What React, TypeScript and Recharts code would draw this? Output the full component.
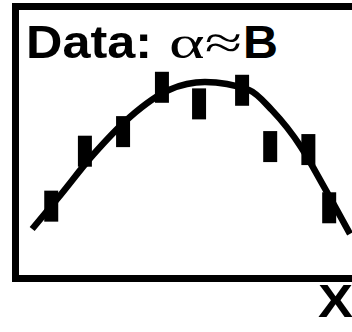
import React from "react";
import {
  ComposedChart,
  Line,
  Scatter,
  ErrorBar,
  XAxis,
  YAxis,
  ReferenceArea,
} from "recharts";

// measured points, x in [0, 10], y in [0, 10]
const pointX = [1.03, 2.0, 3.1, 4.22, 5.29, 6.53, 7.34, 8.44, 9.04];
const pointY = [2.66, 4.68, 5.4, 7.03, 6.42, 6.92, 4.85, 4.74, 2.6];
const pointErr = [0.57, 0.57, 0.57, 0.57, 0.57, 0.57, 0.57, 0.57, 0.57];

// fitted curve
const fitX = [0.48, 1.25, 2.23, 3.3, 4.42, 5.46, 6.73, 7.39, 8.23, 8.83, 9.64];
const fitY = [1.82, 3.0, 4.54, 5.94, 6.93, 7.22, 6.93, 6.19, 4.83, 3.51, 1.64];

const points = pointX.map((x, i) => ({ x, y: pointY[i], err: pointErr[i] }));
const fit = fitX.map((x, i) => ({ x, y: fitY[i] }));

const noDot = () => <g />;

const sans = "'Liberation Sans', Arial, Helvetica, sans-serif";

export default function App() {
  return (
    <div
      style={{
        position: "absolute",
        left: 0,
        top: 0,
        width: 352,
        height: 332,
        overflow: "hidden",
        background: "#fff",
      }}
    >
      <ComposedChart
        width={380}
        height={332}
        margin={{ top: 6.5, left: 15.5, right: 17.5, bottom: 53.5 }}
      >
        <XAxis type="number" dataKey="x" domain={[0, 10]} hide />
        <YAxis type="number" dataKey="y" domain={[0, 10]} hide />
        <ReferenceArea
          x1={0}
          x2={10}
          y1={0}
          y2={10}
          fill="none"
          fillOpacity={0}
          stroke="#000"
          strokeWidth={7}
          strokeOpacity={1}
        />
        <Line
          data={fit}
          dataKey="y"
          type="monotone"
          stroke="#000"
          strokeWidth={6.5}
          dot={false}
          activeDot={false}
          isAnimationActive={false}
        />
        <Scatter data={points} dataKey="y" shape={noDot} isAnimationActive={false}>
          <ErrorBar
            dataKey="err"
            direction="y"
            width={0}
            stroke="#000"
            strokeWidth={14}
            isAnimationActive={false}
          />
        </Scatter>
        <text
          x={26}
          y={58}
          fontFamily={sans}
          fontWeight="bold"
          fontSize={46}
          textLength={126}
          lengthAdjust="spacingAndGlyphs"
          fill="#000"
        >
          Data:
        </text>
        <text
          x={169}
          y={58}
          fontFamily="'Liberation Serif', serif"
          fontSize={46}
          textLength={73}
          lengthAdjust="spacingAndGlyphs"
          fill="#000"
        >
          α≈
        </text>
        <text
          x={243}
          y={58}
          fontFamily={sans}
          fontWeight="bold"
          fontSize={46}
          textLength={35}
          lengthAdjust="spacingAndGlyphs"
          fill="#000"
        >
          B
        </text>
        <text
          x={318}
          y={317}
          fontFamily={sans}
          fontWeight="bold"
          fontSize={47}
          textLength={35}
          lengthAdjust="spacingAndGlyphs"
          fill="#000"
        >
          X
        </text>
      </ComposedChart>
    </div>
  );
}
